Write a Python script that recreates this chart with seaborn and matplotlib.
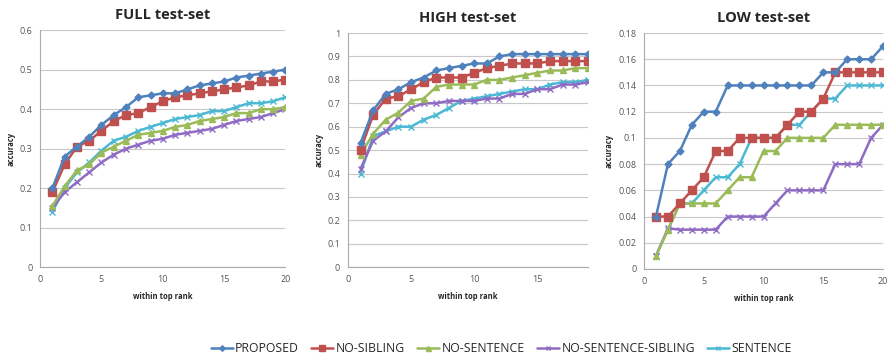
import numpy as np
import pandas as pd
import matplotlib.pyplot as plt
import seaborn as sns

methods = ['PROPOSED', 'NO-SIBLING', 'NO-SENTENCE', 'NO-SENTENCE-SIBLING', 'SENTENCE']

# FULL test-set, rank 1..20
full_rank = list(range(1, 21))
full_proposed = [0.20, 0.28, 0.305, 0.33, 0.36, 0.385, 0.405, 0.43, 0.435, 0.44, 0.44, 0.45, 0.46, 0.465, 0.47, 0.48, 0.485, 0.49, 0.495, 0.50]
full_nosib = [0.19, 0.26, 0.305, 0.32, 0.345, 0.37, 0.385, 0.39, 0.405, 0.42, 0.43, 0.435, 0.44, 0.445, 0.45, 0.455, 0.46, 0.47, 0.47, 0.475]
full_nosent = [0.155, 0.205, 0.245, 0.26, 0.29, 0.305, 0.32, 0.335, 0.34, 0.345, 0.355, 0.36, 0.37, 0.375, 0.38, 0.39, 0.39, 0.40, 0.40, 0.405]
full_nosentsib = [0.15, 0.19, 0.215, 0.24, 0.265, 0.285, 0.30, 0.31, 0.32, 0.325, 0.335, 0.34, 0.345, 0.35, 0.36, 0.37, 0.375, 0.38, 0.39, 0.40]
full_sent = [0.14, 0.20, 0.24, 0.265, 0.295, 0.32, 0.33, 0.345, 0.355, 0.365, 0.375, 0.38, 0.385, 0.395, 0.395, 0.405, 0.415, 0.415, 0.42, 0.43]

# HIGH test-set, rank 1..19
high_rank = list(range(1, 20))
high_proposed = [0.53, 0.67, 0.74, 0.76, 0.79, 0.81, 0.84, 0.85, 0.86, 0.87, 0.87, 0.90, 0.91, 0.91, 0.91, 0.91, 0.91, 0.91, 0.91]
high_nosib = [0.50, 0.65, 0.72, 0.73, 0.76, 0.79, 0.81, 0.81, 0.81, 0.83, 0.85, 0.86, 0.87, 0.87, 0.87, 0.88, 0.88, 0.88, 0.88]
high_nosent = [0.48, 0.57, 0.63, 0.66, 0.71, 0.72, 0.77, 0.78, 0.78, 0.78, 0.80, 0.80, 0.81, 0.82, 0.83, 0.84, 0.84, 0.85, 0.85]
high_nosentsib = [0.42, 0.54, 0.58, 0.64, 0.68, 0.70, 0.70, 0.71, 0.71, 0.71, 0.72, 0.72, 0.74, 0.74, 0.76, 0.76, 0.78, 0.78, 0.79]
high_sent = [0.40, 0.56, 0.58, 0.60, 0.60, 0.63, 0.65, 0.68, 0.71, 0.72, 0.73, 0.74, 0.75, 0.76, 0.76, 0.78, 0.79, 0.79, 0.80]

# LOW test-set, rank 1..20
low_rank = list(range(1, 21))
low_proposed = [0.04, 0.08, 0.09, 0.11, 0.12, 0.12, 0.14, 0.14, 0.14, 0.14, 0.14, 0.14, 0.14, 0.14, 0.15, 0.15, 0.16, 0.16, 0.16, 0.17]
low_nosib = [0.04, 0.04, 0.05, 0.06, 0.07, 0.09, 0.09, 0.10, 0.10, 0.10, 0.10, 0.11, 0.12, 0.12, 0.13, 0.15, 0.15, 0.15, 0.15, 0.15]
low_nosent = [0.01, 0.03, 0.05, 0.05, 0.05, 0.05, 0.06, 0.07, 0.07, 0.09, 0.09, 0.10, 0.10, 0.10, 0.10, 0.11, 0.11, 0.11, 0.11, 0.11]
low_nosentsib = [0.01, 0.031, 0.03, 0.03, 0.03, 0.03, 0.04, 0.04, 0.04, 0.04, 0.05, 0.06, 0.06, 0.06, 0.06, 0.08, 0.08, 0.08, 0.10, 0.11]
low_sent = [0.01, 0.03, 0.05, 0.05, 0.06, 0.07, 0.07, 0.08, 0.10, 0.10, 0.10, 0.11, 0.11, 0.12, 0.13, 0.13, 0.14, 0.14, 0.14, 0.14]

colors = ['#4F81BD', '#C0504D', '#9BBB59', '#8F6BC4', '#4BB8D4']
markers = ['D', 's', '^', 'x', 'x']
msizes = [3.5, 5.5, 4.5, 4, 4]


def long_df(rank, series):
    rows = []
    for name, vals in zip(methods, series):
        for r, v in zip(rank, vals):
            rows.append((name, r, v))
    return pd.DataFrame(rows, columns=['method', 'rank', 'accuracy'])


panels = [
    ('FULL test-set', long_df(full_rank, [full_proposed, full_nosib, full_nosent, full_nosentsib, full_sent]),
     (0, 20), [0, 5, 10, 15, 20], (0, 0.6), np.arange(0, 0.61, 0.1)),
    ('HIGH test-set', long_df(high_rank, [high_proposed, high_nosib, high_nosent, high_nosentsib, high_sent]),
     (0, 19), [0, 5, 10, 15], (0, 1.0), np.arange(0, 1.01, 0.1)),
    ('LOW test-set', long_df(low_rank, [low_proposed, low_nosib, low_nosent, low_nosentsib, low_sent]),
     (0, 20), [0, 5, 10, 15, 20], (0, 0.18), np.arange(0, 0.181, 0.02)),
]

sns.set_style('white')
plt.rcParams['font.family'] = ['Open Sans', 'DejaVu Sans']

fig = plt.figure(figsize=(8.92, 3.63), dpi=100)
# axes boxes in figure fractions: left, bottom, width, height
boxes = [[0.045, 0.264, 0.275, 0.653],
         [0.390, 0.264, 0.269, 0.645],
         [0.722, 0.259, 0.268, 0.650]]
axes = [fig.add_axes(b) for b in boxes]

for ax, (title, df, xl, xt, yl, yt) in zip(axes, panels):
    for i, m in enumerate(methods):
        sub = df[df['method'] == m]
        sns.lineplot(data=sub, x='rank', y='accuracy', ax=ax, color=colors[i],
                     marker=markers[i], markersize=msizes[i], linewidth=1.8,
                     markeredgecolor=colors[i], markeredgewidth=1.0, label=m,
                     legend=False, zorder=3 + (4 - i))
    ax.set_xlim(*xl)
    ax.set_ylim(*yl)
    ax.set_xticks(xt)
    ax.set_yticks(yt)
    ax.set_yticklabels(['{:g}'.format(round(v, 2)) for v in yt])
    ax.tick_params(labelsize=6.5, colors='#555555', length=2)
    ax.grid(axis='y', color='#c8c8c8', linewidth=0.8)
    ax.set_axisbelow(True)
    for s in ['top', 'right']:
        ax.spines[s].set_visible(False)
    for s in ['left', 'bottom']:
        ax.spines[s].set_color('#aaaaaa')
        ax.spines[s].set_linewidth(0.8)
    ax.set_title(title, fontsize=10.5, fontweight='bold', pad=8)
    ax.set_xlabel('within top rank', fontsize=5.5, fontweight='bold', labelpad=6)
    ax.set_ylabel('accuracy', fontsize=5.5, fontweight='bold', labelpad=3)

handles = [plt.Line2D([], [], color=colors[i], marker=markers[i], markersize=msizes[i] * 0.8,
                      linewidth=1.8) for i in range(5)]
fig.legend(handles, methods, loc='center', bbox_to_anchor=(0.562, 0.04), ncol=5,
           frameon=False, fontsize=8.8, handlelength=1.8, handletextpad=0.2, columnspacing=1.0)

fig.savefig('out.png', dpi=100)
